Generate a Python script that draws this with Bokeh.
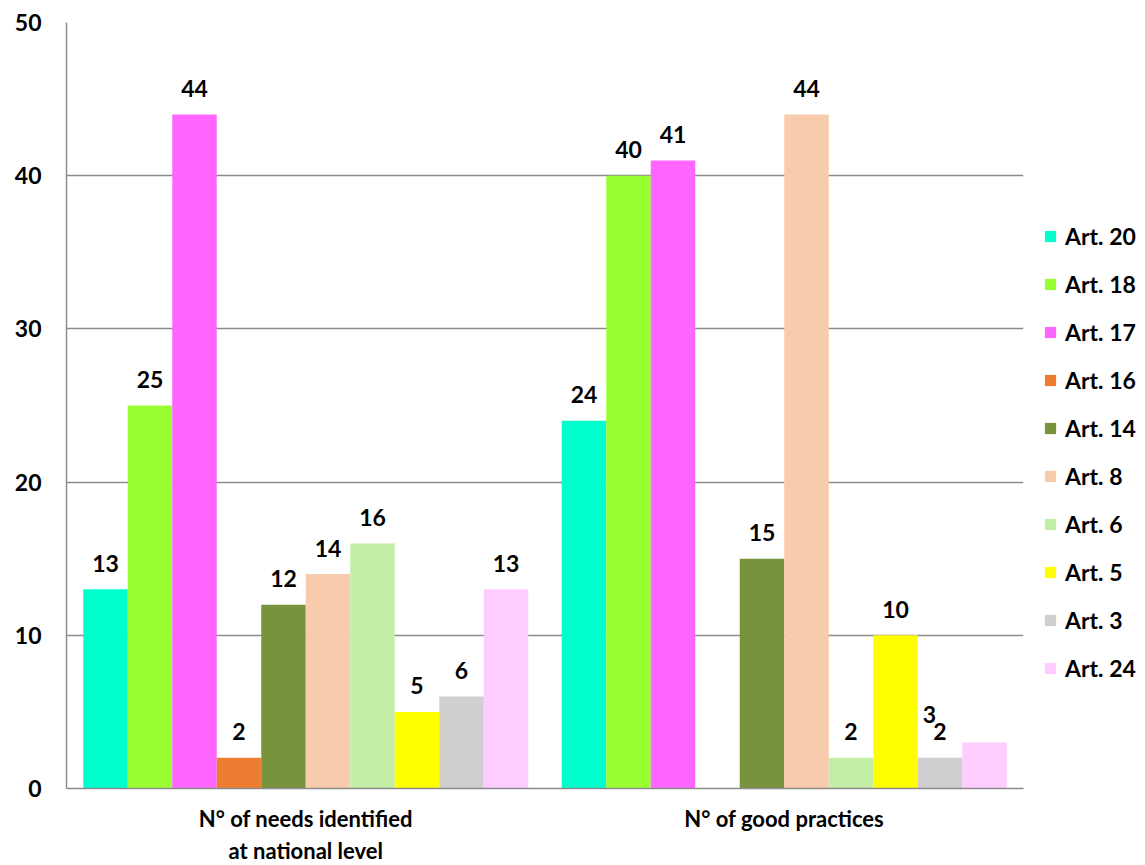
from bokeh.plotting import figure
from bokeh.models import ColumnDataSource, Legend, LegendItem, FixedTicker, Range1d
from bokeh.embed import file_html
from bokeh.resources import INLINE

# Two indicator groups, ten articles each
groups = ["N° of needs identified\nat national level", "N° of good practices"]
series = ["Art. 20", "Art. 18", "Art. 17", "Art. 16", "Art. 14",
          "Art. 8", "Art. 6", "Art. 5", "Art. 3", "Art. 24"]
needs_values = [13, 25, 44, 2, 12, 14, 16, 5, 6, 13]
practice_values = [24, 40, 41, None, 15, 44, 2, 10, 2, 3]
colors = ["#00FFCC", "#99FF33", "#FF66FF", "#ED7D31", "#77933C",
          "#F8CBAD", "#C2EEA6", "#FFFF00", "#D0CECE", "#FFCCFF"]
y_ticks = [0, 10, 20, 30, 40, 50]

FONT = "Lato"
FSIZE = "23px"
BAR_W = 0.093
group_centers = [0.5, 1.5]

p = figure(frame_width=957, frame_height=766, output_backend="svg",
           toolbar_location=None,
           x_range=Range1d(0, 2), y_range=Range1d(0, 50),
           min_border_left=66, min_border_right=0, min_border_top=22,
           min_border_bottom=77)
p.outline_line_color = None
p.background_fill_color = "white"
p.border_fill_color = "white"

items = []
for i, name in enumerate(series):
    offset = (i - 4.5) * BAR_W
    xs, tops, labels = [], [], []
    for g, vals in enumerate([needs_values, practice_values]):
        v = vals[i]
        if v is None:
            continue
        xs.append(group_centers[g] + offset)
        tops.append(v)
        labels.append(str(v))
    src = ColumnDataSource(dict(x=xs, top=tops, label=labels))
    r = p.vbar(x="x", top="top", width=BAR_W, source=src,
               fill_color=colors[i], line_color=None)
    items.append(LegendItem(label=name, renderers=[r]))

    # value labels above each bar; the small Art. 24 label sits beside Art. 3
    dxs, dys = [], []
    for x in xs:
        if name == "Art. 24" and x > 1:
            dxs.append(-55)
            dys.append(-28)
        else:
            dxs.append(0)
            dys.append(-26)
    lsrc = ColumnDataSource(dict(x=xs, y=tops, text=labels, dx=dxs, dy=dys))
    p.text(x="x", y="y", text="text", x_offset="dx", y_offset="dy", source=lsrc,
           text_align="center", text_baseline="middle",
           text_font_size=FSIZE, text_font_style="bold", text_color="black",
           text_font={"value": FONT})

# axes
p.yaxis.ticker = FixedTicker(ticks=y_ticks)
p.yaxis.major_tick_line_color = None
p.yaxis.minor_tick_line_color = None
p.yaxis.axis_line_color = "#8C8C8C"
p.yaxis.axis_line_width = 1.5
p.yaxis.major_label_text_font = FONT
p.yaxis.major_label_text_font_size = FSIZE
p.yaxis.major_label_text_font_style = "bold"
p.yaxis.major_label_text_color = "black"
p.yaxis.major_label_standoff = 19

p.xaxis.ticker = FixedTicker(ticks=group_centers)
p.xaxis.major_label_overrides = {0.5: groups[0], 1.5: groups[1]}
p.xaxis.major_tick_line_color = None
p.xaxis.minor_tick_line_color = None
p.xaxis.axis_line_color = "#8C8C8C"
p.xaxis.axis_line_width = 1.5
p.xaxis.major_label_text_font = FONT
p.xaxis.major_label_text_font_size = "22px"
p.xaxis.major_label_text_font_style = "bold"
p.xaxis.major_label_text_color = "black"
p.xaxis.major_label_standoff = 10

p.xgrid.grid_line_color = None
p.ygrid.grid_line_color = "#8C8C8C"
p.ygrid.grid_line_width = 1.5

legend = Legend(items=items, location=(20, 106), orientation="vertical",
                label_text_font=FONT, label_text_font_size=FSIZE,
                label_text_font_style="bold", label_text_color="black",
                glyph_width=14, glyph_height=14, label_standoff=8,
                spacing=20, padding=0, margin=0,
                border_line_color=None, background_fill_alpha=0)
p.add_layout(legend, "right")

open("out.html", "w").write(file_html(p, INLINE))
